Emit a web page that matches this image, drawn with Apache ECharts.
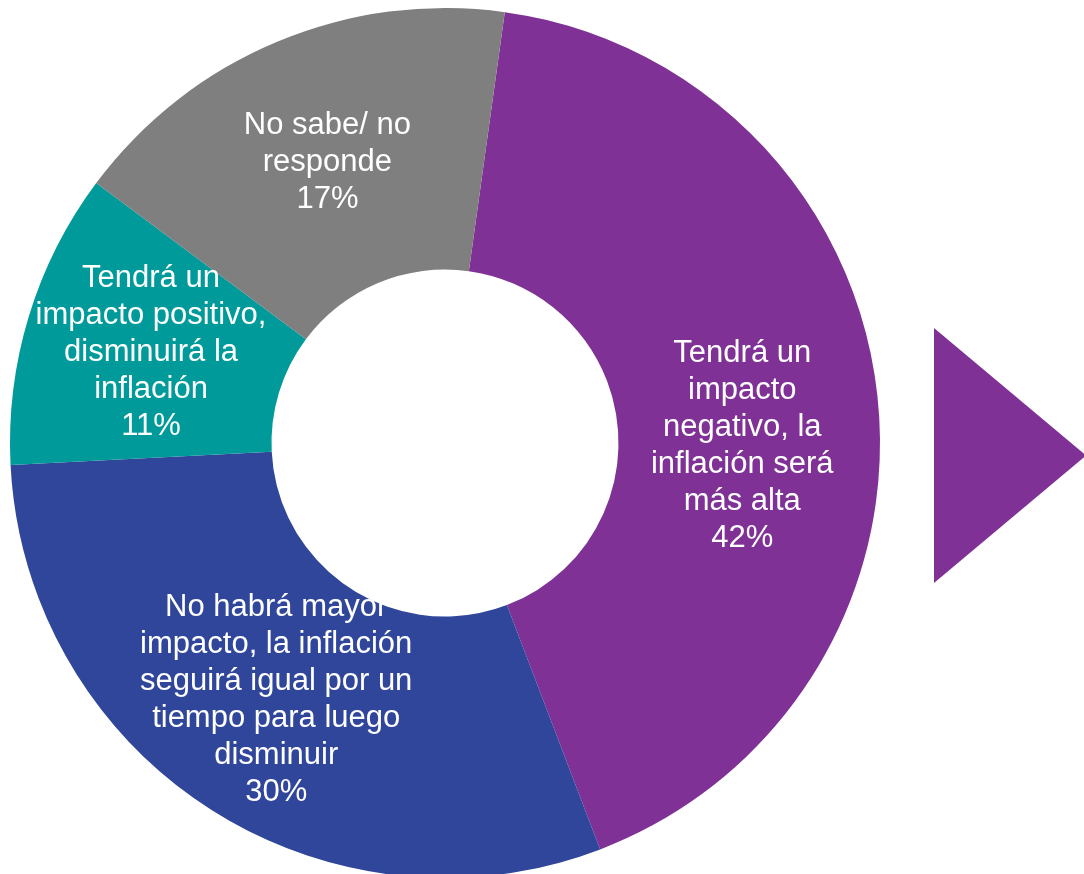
<!DOCTYPE html>
<html>
<head>
<meta charset="utf-8">
<script src="https://cdn.jsdelivr.net/npm/echarts@6/dist/echarts.min.js"></script>
<style>
html,body{margin:0;padding:0;background:#fff;}
#c{width:1084px;height:874px;}
</style>
</head>
<body>
<div id="c"></div>
<script>
var categories = [
  "Tendrá un\nimpacto\nnegativo, la\ninflación será\nmás alta",
  "No habrá mayor\nimpacto, la inflación\nseguirá igual por un\ntiempo para luego\ndisminuir",
  "Tendrá un\nimpacto positivo,\ndisminuirá la\ninflación",
  "No sabe/ no\nresponde"
];
var values = [42, 30, 11, 17];
var colors = ["#7F3196", "#30469A", "#009A9A", "#7F7F7F"];
var labelOffsets = [[-8, 38], [-1, 0], [0, -1], [1, 3]];

var data = categories.map(function (c, i) {
  return {
    name: c,
    value: values[i],
    itemStyle: { color: colors[i] },
    label: { offset: labelOffsets[i] }
  };
});

var chart = echarts.init(document.getElementById('c'));
chart.setOption({
  animation: false,
  series: [{
    type: 'pie',
    center: [445, 443],
    radius: [173.5, 435],
    startAngle: 82.1,
    clockwise: true,
    avoidLabelOverlap: false,
    emphasis: { disabled: true },
    label: {
      show: true,
      position: 'inside',
      color: '#ffffff',
      fontFamily: "'Liberation Sans', Arial, sans-serif",
      fontSize: 31,
      lineHeight: 37,
      align: 'center',
      formatter: function (p) { return p.name + '\n' + p.value + '%'; }
    },
    labelLine: { show: false },
    data: data
  }],
  graphic: [{
    type: 'polygon',
    shape: { points: [[934, 328], [1086, 455.5], [934, 583]] },
    style: { fill: '#7F3196' }
  }]
});
</script>
</body>
</html>
